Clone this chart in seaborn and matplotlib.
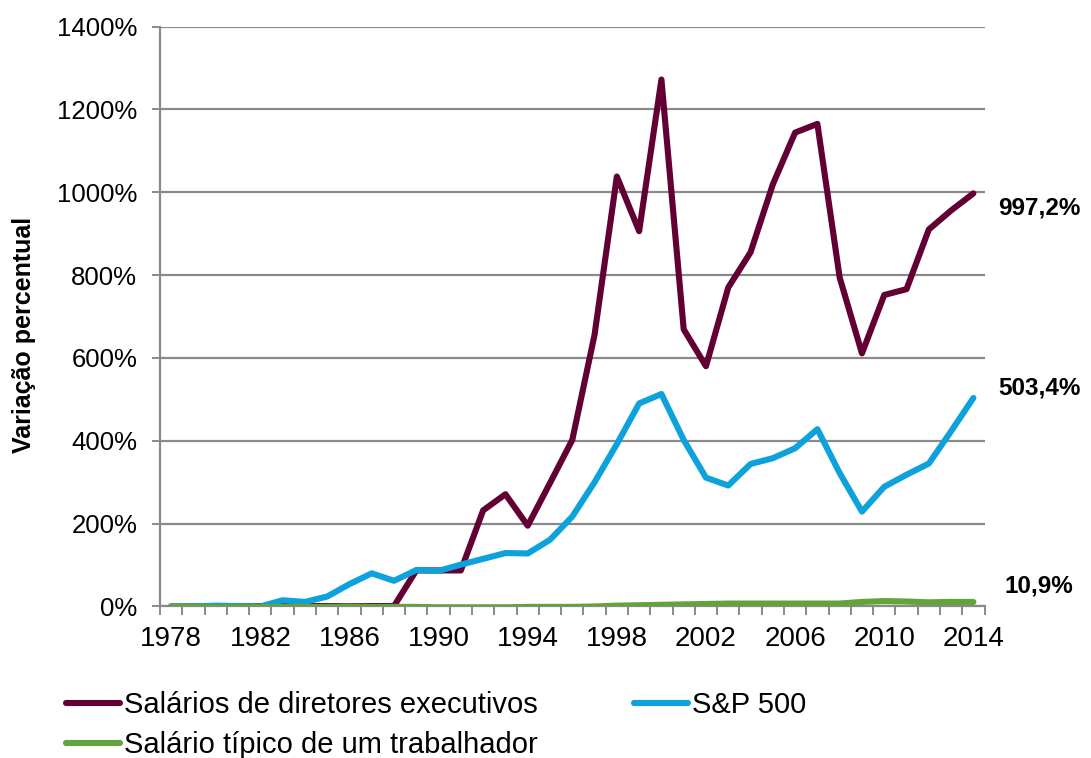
import pandas as pd
import matplotlib
matplotlib.use("Agg")
import matplotlib.pyplot as plt
import seaborn as sns
from matplotlib.lines import Line2D
from matplotlib.ticker import FuncFormatter, MultipleLocator

# Data (percent change since 1978)
years = list(range(1978, 2015))

ceo_pay = [0, 0, 0, 0, 1, 1, 1, 1, 1, 1, 1, 87, 87, 87, 232, 271, 195, 298,
           402, 656, 1038, 906, 1272, 669, 580, 770, 855, 1019, 1144, 1165,
           794, 611, 752, 766, 910, 956, 997.2]

sp500 = [0, 0, 2, 1, 0, 15, 11, 24, 54, 80, 62, 88, 86, 101, 115, 129, 128,
         161, 217, 300, 392, 490, 513, 402, 311, 292, 344, 358, 382, 428,
         322, 229, 289, 318, 345, 423, 503.4]

worker_pay = [0, -1, -2, -2, -1, -1, -1, -1, 0, -1, -1, -1, -2, -2, -2, -2,
              -1, -1, -1, 0, 2, 3, 4, 5, 6, 7, 7, 7, 7, 7, 7, 11, 13, 12, 10,
              11, 10.9]

series_names = ["Salários de diretores executivos", "S&P 500",
                "Salário típico de um trabalhador"]
end_labels = ["997,2%", "503,4%", "10,9%"]
colors = {series_names[0]: "#620033",
          series_names[1]: "#0ea2dc",
          series_names[2]: "#62a33a"}

df = pd.DataFrame({
    "ano": years * 3,
    "variacao": ceo_pay + sp500 + worker_pay,
    "serie": [series_names[0]] * len(years) + [series_names[1]] * len(years)
             + [series_names[2]] * len(years),
})

sns.set_style("white")
plt.rcParams["font.family"] = ["Liberation Sans", "DejaVu Sans"]
plt.rcParams["text.color"] = "black"
plt.rcParams["axes.labelcolor"] = "black"

fig = plt.figure(figsize=(10.91, 7.58), dpi=100)
ax = fig.add_axes([0.1467, 0.1999, 0.7557, 0.7651])

sns.lineplot(data=df, x="ano", y="variacao", hue="serie", palette=colors,
             linewidth=4.4, legend=False, ax=ax, zorder=3)
for line in ax.get_lines():
    line.set_solid_capstyle("round")
    line.set_solid_joinstyle("round")

grid_gray = "#8a8a8a"
ax.set_ylim(0, 1400)
ax.set_xlim(1977.5, 2014.5)
ax.yaxis.set_major_locator(MultipleLocator(200))
ax.yaxis.set_major_formatter(FuncFormatter(lambda v, p: f"{v:.0f}%"))
ax.set_xticks(years[::4])
ax.set_xticks([y - 0.5 for y in years] + [2014.5], minor=True)
ax.grid(axis="y", color=grid_gray, linewidth=1.6)
ax.set_axisbelow(True)

for side in ["top", "right"]:
    ax.spines[side].set_visible(False)
for side in ["left", "bottom"]:
    ax.spines[side].set_color(grid_gray)
    ax.spines[side].set_linewidth(1.6)

ax.tick_params(axis="y", which="major", length=5.5, width=1.4,
               color=grid_gray, pad=11, labelsize=18.5, labelcolor="black", left=True)
ax.tick_params(axis="x", which="major", length=0, pad=14, labelsize=20,
               labelcolor="black")
ax.tick_params(axis="x", which="minor", length=6.5, width=1.4,
               color=grid_gray, bottom=True)

ax.set_xlabel("")
ax.set_ylabel("Variação percentual", fontsize=18, fontweight="bold")
ax.yaxis.set_label_coords(-0.151, 0.468)

# value labels to the right of the line ends
final_values = [ceo_pay[-1], sp500[-1], worker_pay[-1]]
offsets = [-10.5, 7, 11.5]
for val, lab, dy in zip(final_values, end_labels, offsets):
    ax.annotate(lab, xy=(years[-1], val), xytext=(47.5, dy),
                textcoords="offset points", ha="center", va="center",
                fontsize=17.5, fontweight="bold", annotation_clip=False)

# legend: row 1 CEO + S&P, row 2 worker (matplotlib fills columns first)
order = [series_names[0], series_names[2], series_names[1]]
handles = [Line2D([0], [0], color=colors[n], linewidth=4.4,
                  solid_capstyle="round") for n in order]
fig.legend(handles, order, loc="upper left", bbox_to_anchor=(0.0605, 0.0884),
           ncol=2, frameon=False, fontsize=21, handlelength=1.85,
           handletextpad=0.14, columnspacing=3.3, labelspacing=0.41,
           borderaxespad=0, borderpad=0)

fig.savefig("out.png", dpi=100)
